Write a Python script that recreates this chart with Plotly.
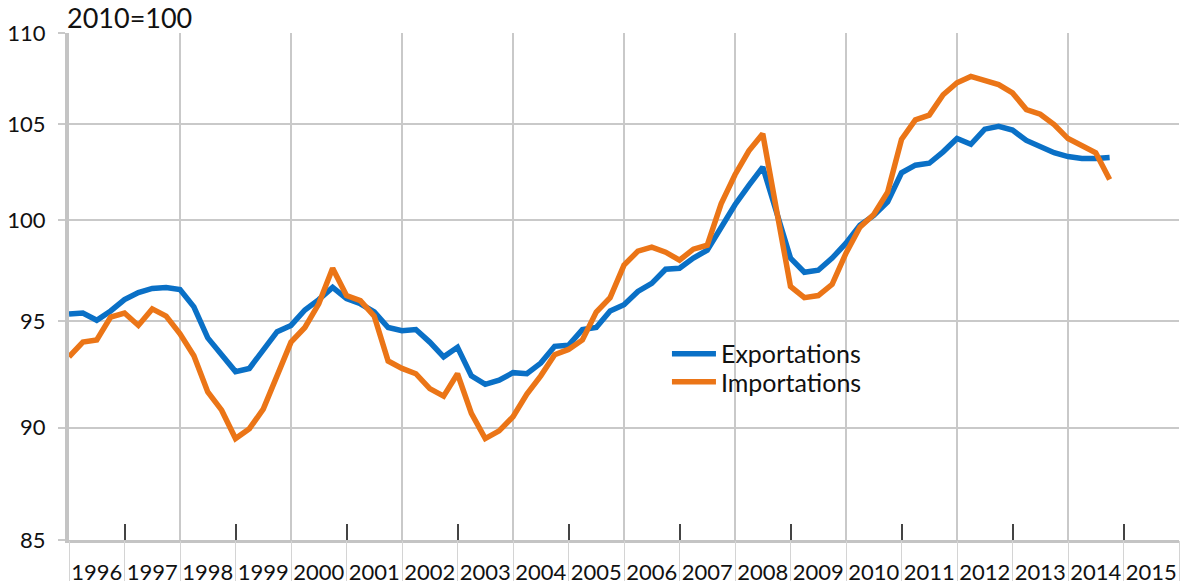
import math
import plotly.graph_objects as go

# ---- data (quarterly, 2010=100) ----
data_years = list(range(1996, 2015))
quarters = [1, 2, 3, 4]
periods = [f"{y}T{q}" for y in data_years for q in quarters]

exportations = [
    95.35, 95.40, 95.05, 95.50, 96.05, 96.40, 96.60, 96.65,
    96.55, 95.70, 94.20, 93.40, 92.60, 92.75, 93.65, 94.50,
    94.80, 95.55, 96.05, 96.65, 96.10, 95.85, 95.45, 94.70,
    94.55, 94.60, 94.00, 93.30, 93.75, 92.40, 92.00, 92.20,
    92.55, 92.50, 93.00, 93.80, 93.85, 94.60, 94.70, 95.50,
    95.80, 96.45, 96.85, 97.55, 97.60, 98.10, 98.50, 99.70,
    100.80, 101.80, 102.75, 100.40, 98.10, 97.40, 97.50, 98.10,
    98.85, 99.75, 100.25, 100.95, 102.45, 102.85, 102.95, 103.55,
    104.25, 103.95, 104.75, 104.90, 104.70, 104.15, 103.85, 103.50,
    103.30, 103.20, 103.20, 103.25,
]
importations = [
    93.30, 94.00, 94.10, 95.20, 95.40, 94.80, 95.60, 95.25,
    94.40, 93.35, 91.65, 90.80, 89.50, 89.95, 90.85, 92.35,
    94.00, 94.70, 95.85, 97.60, 96.25, 96.00, 95.25, 93.10,
    92.75, 92.50, 91.80, 91.45, 92.50, 90.65, 89.50, 89.85,
    90.50, 91.55, 92.40, 93.40, 93.65, 94.10, 95.45, 96.15,
    97.75, 98.45, 98.65, 98.40, 98.00, 98.55, 98.75, 100.85,
    102.35, 103.60, 104.50, 100.50, 96.70, 96.15, 96.25, 96.80,
    98.35, 99.65, 100.30, 101.45, 104.20, 105.25, 105.50, 106.60,
    107.25, 107.60, 107.40, 107.15, 106.70, 105.80, 105.55, 105.00,
    104.25, 103.90, 103.50, 102.10,
]

label_years = list(range(1996, 2016))
year_labels = [str(y) for y in label_years]
y_ticks = [85, 90, 95, 100, 105, 110]

# ---- positions derived from the period labels ----
x_vals = [int(p[:4]) + (int(p[-1]) - 1) / 4 for p in periods]
x_range = [label_years[0], label_years[-1] + 1]
boundaries = list(range(label_years[0], label_years[-1] + 2))
grid_years = [b for b in boundaries if b % 2 == 0 and b > label_years[0]]
odd_years = [b for b in boundaries if b % 2 == 1]

BLUE = "#0A70C6"
ORANGE = "#EB7517"
GRID = "#c9c9c9"
FONT = "Lato"
TXT = "#111111"

fig = go.Figure()
fig.add_trace(go.Scatter(x=x_vals, y=exportations, mode="lines", name="Exportations",
                         line=dict(color=BLUE, width=5.5), legend="legend"))
fig.add_trace(go.Scatter(x=x_vals, y=importations, mode="lines", name="Importations",
                         line=dict(color=ORANGE, width=5.5), legend="legend2"))
# empty traces so that the overlaid decoration axes are drawn
for ax in ["x2", "x3", "x4"]:
    fig.add_trace(go.Scatter(x=[], y=[], xaxis=ax, yaxis="y", mode="lines",
                             showlegend=False, hoverinfo="skip"))

legend_common = dict(xanchor="left", yanchor="middle", bgcolor="rgba(0,0,0,0)",
                     font=dict(size=25, family=FONT, color=TXT), itemwidth=44)

fig.update_layout(
    width=1181, height=585,
    margin=dict(l=69, r=2, t=33, b=45, autoexpand=False),
    paper_bgcolor="white", plot_bgcolor="white",
    font=dict(family=FONT, color=TXT, size=20),
    showlegend=True,
    legend=dict(x=0.5387, y=0.3669, **legend_common),
    legend2=dict(x=0.5387, y=0.3116, **legend_common),
    xaxis=dict(range=x_range, tickmode="array", tickvals=grid_years,
               showticklabels=False, ticks="", showgrid=True,
               gridcolor=GRID, gridwidth=1.6, zeroline=False, automargin=False,
               showline=True, linecolor="#c4c4c4", linewidth=3),
    xaxis2=dict(range=x_range, overlaying="x", anchor="y", side="bottom",
                tickmode="array", tickvals=[y + 0.5 for y in label_years],
                ticktext=year_labels, ticks="", showgrid=False, zeroline=False,
                showline=False, automargin=False,
                tickfont=dict(size=22, family=FONT, color=TXT),
                ticklabelstandoff=17),
    xaxis3=dict(range=x_range, overlaying="x", anchor="y", side="bottom",
                tickmode="array", tickvals=boundaries, showticklabels=False,
                ticks="outside", ticklen=40, tickwidth=1.3, tickcolor="#d4d4d4",
                showgrid=False, zeroline=False, showline=False, automargin=False),
    xaxis4=dict(range=x_range, overlaying="x", anchor="y", side="bottom",
                tickmode="array", tickvals=odd_years, showticklabels=False,
                ticks="inside", ticklen=16, tickwidth=1.5, tickcolor="#444444",
                showgrid=False, zeroline=False, showline=False, automargin=False),
    yaxis=dict(type="log", range=[math.log10(85), math.log10(110)],
               tickmode="array", tickvals=y_ticks, ticktext=[str(v) for v in y_ticks],
               ticks="outside", ticklen=7, tickcolor=GRID, tickwidth=1.6,
               showgrid=True, gridcolor=GRID, gridwidth=1.6, zeroline=False,
               showline=True, linecolor="#c4c4c4", linewidth=4, automargin=False,
               tickfont=dict(size=22, family=FONT, color=TXT),
               ticklabelstandoff=8),
    annotations=[dict(text="2010=100", xref="paper", yref="paper", x=0, y=1,
                      xanchor="left", yanchor="bottom", showarrow=False,
                      xshift=-4, yshift=-3,
                      font=dict(size=27, family=FONT, color=TXT))],
)

fig.write_html("out.html", config={"displayModeBar": False},
               post_script="document.body.style.margin='0px';")
